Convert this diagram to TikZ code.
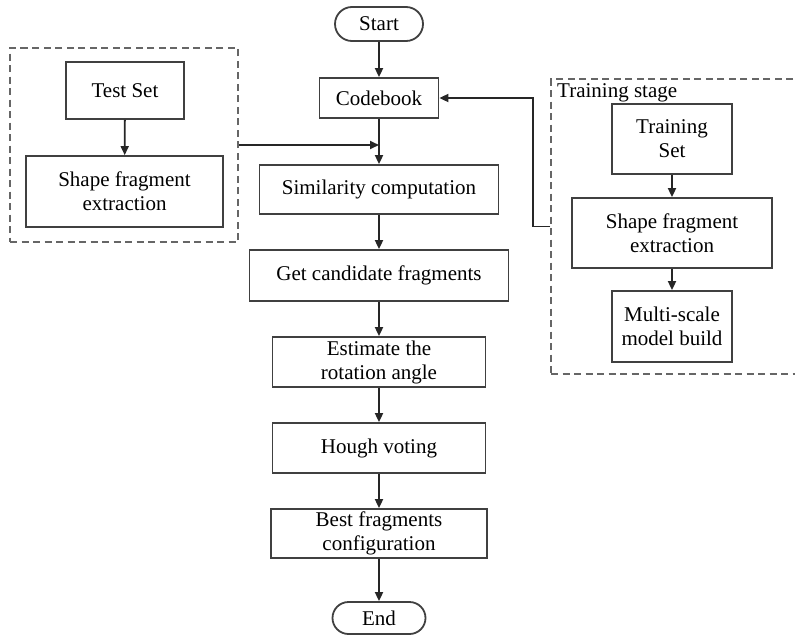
\documentclass[tikz,border=0pt]{standalone}
\usepackage{fontspec}
\setmainfont{Liberation Serif}
\usepackage{tikz}
\usetikzlibrary{positioning,
        shapes,
        arrows.meta,
        fit}
\usepackage{xcolor}

\tikzset{
        box/.style={rectangle,draw=black!75,line width=1.8pt,align=center,inner sep=0pt},
        pill/.style={rounded rectangle,draw=black!75,line width=1.8pt,inner sep=0pt},
        flow/.style={draw=black!85,line width=1.8pt,-{Triangle[length=9pt,width=8pt]}},
        stagebox/.style={draw=black!60,line width=1.6pt,dash pattern=on 7pt off 4.5pt}
}

\begin{document}
\begin{tikzpicture}[x=1pt,y=-1pt,font=\fontsize{21}{24}\selectfont]
        \clip (0,0) rectangle (795,635);
        \fill[white] (0,0) rectangle (795,635);

        % main column
        \node [pill,minimum width=88,minimum height=34] (start) at (379,24) {Start};
        \node [box,minimum width=119,minimum height=40] (codebook) at (379,98) {Codebook};
        \node [box,minimum width=239,minimum height=49] (simil) at (379,189.5) {Similarity computation};
        \node [box,minimum width=259,minimum height=51] (cand) at (379,275.5) {Get candidate fragments};
        \node [box,minimum width=213,minimum height=50] (rot) at (379,362) {Estimate the\\rotation angle};
        \node [box,minimum width=213,minimum height=50] (hough) at (379,448) {Hough voting};
        \node [box,minimum width=216,minimum height=49] (best) at (379,533.5) {Best fragments\\configuration};
        \node [pill,minimum width=93,minimum height=32] (end) at (379,618) {End};
        \coordinate (join) at (379,145);

        % test side
        \node [box,minimum width=118,minimum height=57] (testset) at (125,90.5) {Test Set};
        \node [box,minimum width=197,minimum height=71] (testext) at (124.5,191.5) {Shape fragment\\extraction};
        \node [stagebox,fit={(10,48) (238,242)},inner sep=0pt] (testbox) {};

        % training side
        \node [box,minimum width=120,minimum height=70] (trainset) at (672,139) {Training\\Set};
        \node [box,minimum width=200,minimum height=70] (trainext) at (672,233) {Shape fragment\\extraction};
        \node [box,minimum width=120,minimum height=71] (multi) at (672,326.5) {Multi-scale\\model build};
        \node [stagebox,fit={(551,79) (812,374)},inner sep=0pt] (trainbox) {};
        \node [anchor=north west,inner sep=0pt] (stagelabel) at (557,83) {Training stage};

        \draw [flow] (start) -- (codebook);
        \draw [flow] (codebook) -- (simil);
        \draw [flow] (simil) -- (cand);
        \draw [flow] (cand) -- (rot);
        \draw [flow] (rot) -- (hough);
        \draw [flow] (hough) -- (best);
        \draw [flow] (best) -- (end);

        \draw [flow] (testset) -- (testext);
        \draw [flow] (testbox.east) -- (join);

        \draw [flow] (trainset) -- (trainext);
        \draw [flow] (trainext) -- (multi);
        \draw [flow] (trainbox.west) -- ++(-17,0) |- (codebook.east);
\end{tikzpicture}
\end{document}
